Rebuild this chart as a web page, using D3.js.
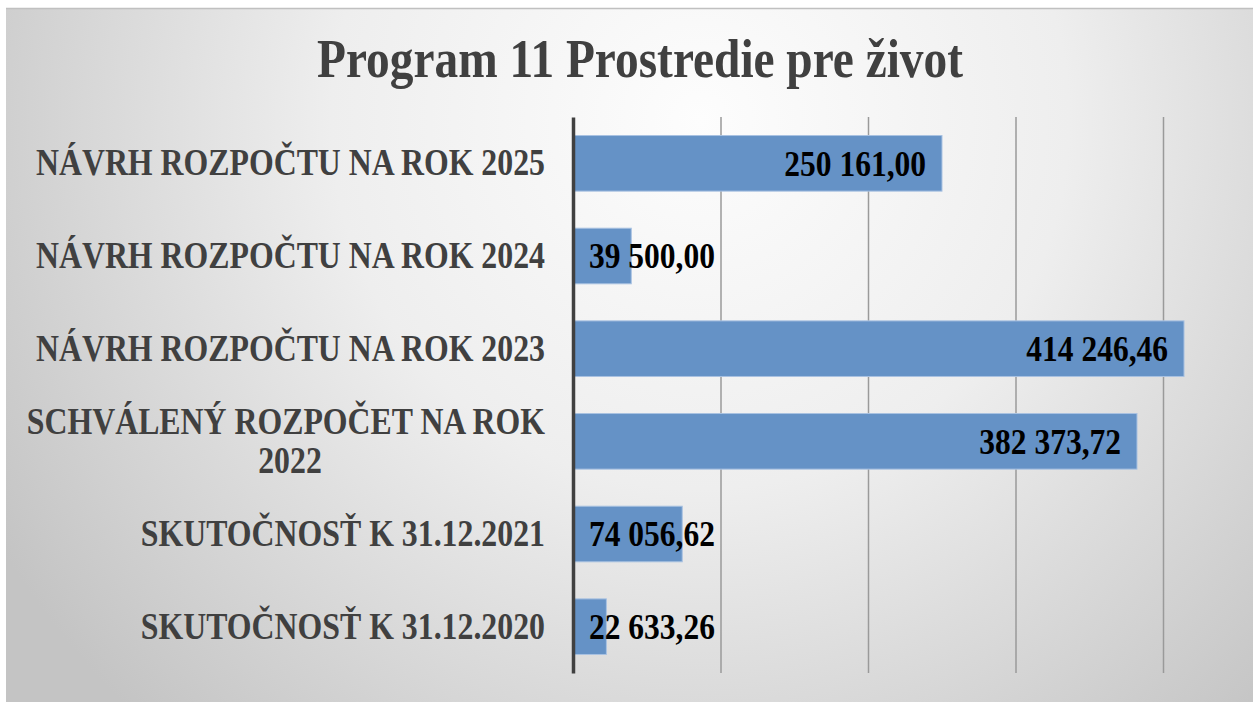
<!DOCTYPE html>
<html>
<head>
<meta charset="utf-8">
<script src="https://cdn.jsdelivr.net/npm/d3@7"></script>
<style>
  html, body { margin: 0; padding: 0; background: #fff; }
  svg { display: block; }
</style>
</head>
<body>
<div id="chart"></div>
<script>
const categories = [
  "NÁVRH ROZPOČTU NA ROK 2025",
  "NÁVRH ROZPOČTU NA ROK 2024",
  "NÁVRH ROZPOČTU NA ROK 2023",
  "SCHVÁLENÝ ROZPOČET NA ROK 2022",
  "SKUTOČNOSŤ K 31.12.2021",
  "SKUTOČNOSŤ K 31.12.2020"
];
const values = [250161.00, 39500.00, 414246.46, 382373.72, 74056.62, 22633.26];
const gridTicks = [100000, 200000, 300000, 400000];
const title = "Program 11 Prostredie pre život";

const W = 1253, H = 702;
const margin = {top: 117, right: 16, bottom: 29, left: 573};
const serif = "'Liberation Serif', 'Times New Roman', serif";
// the source picture is a little squeezed sideways
const squeeze = 0.86;

const data = categories.map((c, i) => ({name: c, value: values[i]}));

const svg = d3.select("#chart").append("svg")
  .attr("width", W)
  .attr("height", H)
  .attr("viewBox", [0, 0, W, H]);

const defs = svg.append("defs");
const bg = defs.append("radialGradient")
  .attr("id", "bg")
  .attr("gradientUnits", "userSpaceOnUse")
  .attr("cx", 700).attr("cy", 120).attr("r", 820);
bg.append("stop").attr("offset", 0).attr("stop-color", "#fdfdfd");
bg.append("stop").attr("offset", 0.45).attr("stop-color", "#eeeeee");
bg.append("stop").attr("offset", 1).attr("stop-color", "#c4c4c4");

// panel
svg.append("rect")
  .attr("x", 6).attr("y", 8)
  .attr("width", W - 6).attr("height", H - 8)
  .attr("fill", "url(#bg)");
svg.append("line")
  .attr("x1", 6).attr("x2", W).attr("y1", 8.5).attr("y2", 8.5)
  .attr("stroke", "#c0c0c0").attr("stroke-width", 1.5);

const x = d3.scaleLinear()
  .domain([0, 450000])
  .range([margin.left, margin.left + 4.5 * 147.5]);

const y = d3.scaleBand()
  .domain(categories)
  .range([margin.top, H - margin.bottom])
  .paddingInner(0.4)
  .paddingOuter(0.2);

// title
svg.append("text")
  .attr("transform", "translate(640,77) scale(0.877,1)")
  .attr("text-anchor", "middle")
  .attr("font-family", serif)
  .attr("font-weight", "bold")
  .attr("font-size", 54)
  .attr("fill", "#404040")
  .text(title);

// gridlines
svg.append("g")
  .attr("transform", `translate(0,${H - margin.bottom})`)
  .call(d3.axisBottom(x).tickValues(gridTicks).tickFormat("").tickSize(-(H - margin.bottom - margin.top)))
  .call(g => g.select(".domain").remove())
  .call(g => g.selectAll(".tick line")
    .attr("stroke", "#9a9a9a")
    .attr("stroke-width", 1.5));

// bars
svg.append("g")
  .selectAll("rect")
  .data(data)
  .join("rect")
  .attr("x", x(0))
  .attr("y", d => y(d.name))
  .attr("width", d => x(d.value) - x(0))
  .attr("height", y.bandwidth())
  .attr("fill", "#6592c6")
  .attr("stroke", "#a9c2e2")
  .attr("stroke-width", 1);

// category axis
const yAxis = svg.append("g")
  .attr("transform", `translate(${margin.left},0)`)
  .call(d3.axisLeft(y).tickSize(0));
yAxis.select(".domain")
  .attr("stroke", "#404040")
  .attr("stroke-width", 3.5);
yAxis.selectAll(".tick text")
  .attr("x", 0)
  .attr("transform", `translate(-28,0) scale(${squeeze},1)`)
  .attr("font-family", serif)
  .attr("font-weight", "bold")
  .attr("font-size", 37)
  .attr("fill", "#404040")
  .each(function(d) {
    const t = d3.select(this);
    const m = d.match(/^(.*) (\d{4})$/);
    if (d.startsWith("SCHVÁLENÝ") && m) {
      t.text(null);
      t.append("tspan").attr("x", 0).attr("dy", "-0.2em").text(m[1]);
      t.append("tspan").attr("x", -255 / squeeze).attr("dy", "1.05em")
        .attr("text-anchor", "middle").text(m[2]);
    }
  });

// value labels
const fmt = v => d3.format(",.2f")(v).replace(/,/g, " ").replace(".", ",");
const vs = 0.9;
svg.append("g")
  .selectAll("text")
  .data(data)
  .join("text")
  .attr("font-family", serif)
  .attr("font-weight", "bold")
  .attr("font-size", 35)
  .attr("fill", "#000")
  .attr("dy", "0.35em")
  .text(d => fmt(d.value))
  .each(function(d) {
    const w = this.getComputedTextLength() * vs;
    const bw = x(d.value) - x(0);
    const t = d3.select(this);
    const cy = y(d.name) + y.bandwidth() / 2;
    if (w + 32 > bw) {
      t.attr("transform", `translate(${x(0) + 16},${cy}) scale(${vs},1)`).attr("text-anchor", "start");
    } else {
      t.attr("transform", `translate(${x(d.value) - 16},${cy}) scale(${vs},1)`).attr("text-anchor", "end");
    }
  });
</script>
</body>
</html>
